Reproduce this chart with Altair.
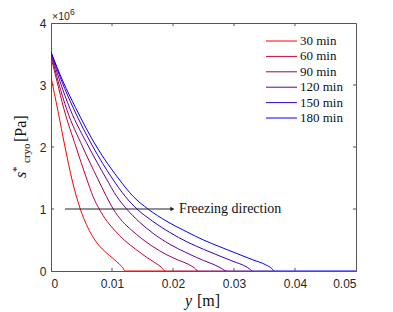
import altair as alt
import pandas as pd

# ---- data (s in units of 1e6 Pa, y in m) ----
series = ["30 min", "60 min", "90 min", "120 min", "150 min", "180 min"]
colors = ["#ff0000", "#cc0033", "#990066", "#660099", "#3300cc", "#0000ff"]

y30 = [0, 0.0011, 0.0023, 0.0035, 0.0048, 0.0058, 0.0068, 0.0078, 0.0090, 0.0102, 0.0112, 0.0118, 0.0121, 0.0187]
s30 = [3.13, 2.6, 2.0, 1.45, 1.0, 0.75, 0.56, 0.42, 0.3, 0.2, 0.11, 0.05, 0, 0]

y60 = [0, 0.001, 0.0021, 0.0041, 0.0058, 0.0069, 0.0079, 0.0092, 0.0104, 0.012, 0.0139, 0.0157, 0.0171, 0.0181, 0.0187, 0.0241]
s60 = [3.45, 3.05, 2.62, 2.0, 1.5, 1.2, 1.0, 0.8, 0.66, 0.5, 0.35, 0.22, 0.13, 0.06, 0, 0]

y90 = [0, 0.0012, 0.0026, 0.0052, 0.0076, 0.0091, 0.0102, 0.0117, 0.0132, 0.0149, 0.0166, 0.019, 0.021, 0.0225, 0.0235, 0.0241, 0.0288]
s90 = [3.5, 3.05, 2.6, 2.0, 1.5, 1.2, 1.0, 0.8, 0.66, 0.52, 0.4, 0.26, 0.17, 0.11, 0.05, 0, 0]

y120 = [0, 0.0015, 0.0031, 0.0062, 0.009, 0.0108, 0.0124, 0.0145, 0.0167, 0.0195, 0.0223, 0.025, 0.0268, 0.028, 0.0287, 0.033]
s120 = [3.52, 3.05, 2.62, 2.0, 1.5, 1.2, 1.0, 0.79, 0.61, 0.43, 0.29, 0.17, 0.1, 0.04, 0, 0]

y150 = [0, 0.0018, 0.0036, 0.0069, 0.0100, 0.0122, 0.0141, 0.0167, 0.0195, 0.0223, 0.025, 0.0277, 0.03, 0.0318, 0.0326, 0.033, 0.0366]
s150 = [3.53, 3.05, 2.64, 2.0, 1.5, 1.2, 1.0, 0.8, 0.62, 0.47, 0.35, 0.24, 0.15, 0.08, 0.03, 0, 0]

y180 = [0, 0.002, 0.004, 0.0075, 0.011, 0.0135, 0.0159, 0.019, 0.0223, 0.025, 0.0277, 0.0305, 0.0331, 0.0352, 0.0362, 0.0366, 0.05]
s180 = [3.53, 3.05, 2.64, 2.0, 1.5, 1.2, 1.0, 0.8, 0.63, 0.5, 0.39, 0.28, 0.18, 0.1, 0.04, 0, 0]

x_ticks = [0, 0.01, 0.02, 0.03, 0.04, 0.05]
y_ticks = [0, 1, 2, 3, 4]
inner_x_ticks = [0.01, 0.02, 0.03, 0.04]
inner_y_ticks = [1, 2, 3]

arrow_y = [0.0023, 0.0199]
arrow_s = 1.0
arrow_text = "Freezing direction"
arrow_text_y = 0.021

# ---- build table ----
rows = []
for name, ys, ss in zip(series, [y30, y60, y90, y120, y150, y180], [s30, s60, s90, s120, s150, s180]):
    for i, (a, b) in enumerate(zip(ys, ss)):
        rows.append({"series": name, "y": a, "s": b, "order": i})
df = pd.DataFrame(rows)

XS = alt.Scale(domain=[0, 0.05], nice=False)
YS = alt.Scale(domain=[0, 4], nice=False)
CS = alt.Scale(domain=series, range=colors)

serif = "Liberation Serif"
sans = "Liberation Sans"

lines = alt.Chart(df).mark_line(strokeWidth=1, interpolate="monotone", clip=True).encode(
    x=alt.X("y:Q", scale=XS, axis=alt.Axis(values=x_ticks, format=".2~f", title=None, labelPadding=7)),
    y=alt.Y("s:Q", scale=YS, axis=alt.Axis(values=y_ticks, format="d", title=None, labelPadding=5)),
    color=alt.Color("series:N", scale=CS, legend=None),
    order="order:Q",
)

tlen_x = 0.0005
tlen_y = 0.05
xt = pd.DataFrame({"v": inner_x_ticks})
yt = pd.DataFrame({"v": inner_y_ticks})
tick_col = "#555555"
xt_bottom = alt.Chart(xt).mark_rule(color=tick_col, strokeWidth=1).encode(
    x=alt.X("v:Q", scale=XS), y=alt.datum(0, scale=YS), y2=alt.datum(tlen_y))
xt_top = alt.Chart(xt).mark_rule(color=tick_col, strokeWidth=1).encode(
    x=alt.X("v:Q", scale=XS), y=alt.datum(4, scale=YS), y2=alt.datum(4 - tlen_y))
yt_left = alt.Chart(yt).mark_rule(color=tick_col, strokeWidth=1).encode(
    y=alt.Y("v:Q", scale=YS), x=alt.datum(0, scale=XS), x2=alt.datum(tlen_x))
yt_right = alt.Chart(yt).mark_rule(color=tick_col, strokeWidth=1).encode(
    y=alt.Y("v:Q", scale=YS), x=alt.datum(0.05, scale=XS), x2=alt.datum(0.05 - tlen_x))

adf = pd.DataFrame({"y0": [arrow_y[0]], "y1": [arrow_y[1]], "s": [arrow_s], "t": [arrow_text], "ty": [arrow_text_y]})
arrow = alt.Chart(adf).mark_rule(color="#222222", strokeWidth=1).encode(
    x=alt.X("y0:Q", scale=XS), x2="y1:Q", y=alt.Y("s:Q", scale=YS))
head = alt.Chart(adf).mark_point(shape="triangle-right", filled=True, size=22, color="#222222", opacity=1).encode(
    x=alt.X("y1:Q", scale=XS), y=alt.Y("s:Q", scale=YS))
atext = alt.Chart(adf).mark_text(font=serif, fontSize=14, align="left", baseline="middle", color="#111111").encode(
    x=alt.X("ty:Q", scale=XS), y=alt.Y("s:Q", scale=YS), text="t:N")

one = pd.DataFrame({"a": [0]})
def txt(text, x, y, **kw):
    return alt.Chart(one).mark_text(text=text, **kw).encode(x=alt.value(x), y=alt.value(y))

exp1 = txt("\u00d710", 1, -6, font=sans, fontSize=10.5, align="left", baseline="middle", color="#262626")
exp2 = txt("6", 19, -11, font=sans, fontSize=8.5, align="left", baseline="middle", color="#262626")

# y-axis title  s*_cryo [Pa]  (rotated)
yt1 = txt("s", -25, 155, font=serif, fontSize=16, fontStyle="italic", angle=270, align="left", baseline="alphabetic", color="#111111")
yt2 = txt("*", -31, 149, font=serif, fontSize=11, angle=270, align="left", baseline="alphabetic", color="#111111")
yt3 = txt("cryo", -21, 140, font=serif, fontSize=11, angle=270, align="left", baseline="alphabetic", color="#111111")
yt4 = txt("[Pa]", -25, 119, font=serif, fontSize=16, angle=270, align="left", baseline="alphabetic", color="#111111")

# x-axis title  y [m]
xt1 = txt("y", 134, 283, font=serif, fontSize=16, fontStyle="italic", align="left", baseline="alphabetic", color="#111111")
xt2 = txt("[m]", 146, 283, font=serif, fontSize=16, align="left", baseline="alphabetic", color="#111111")

data_layer = alt.layer(lines, xt_bottom, xt_top, yt_left, yt_right, arrow, head, atext,
                       exp1, exp2, yt1, yt2, yt3, yt4, xt1, xt2)

# legend (inside plot, top right)
ldf = pd.DataFrame({"series": series})
LY = alt.Scale(type="point", domain=series, range=[18, 95], padding=0)
leg_line = alt.Chart(ldf).mark_rule(strokeWidth=1).encode(
    x=alt.value(215), x2=alt.value(246),
    y=alt.Y("series:N", scale=LY, axis=None),
    color=alt.Color("series:N", scale=CS, legend=None))
leg_text = alt.Chart(ldf).mark_text(font=serif, fontSize=13, align="left", baseline="middle", color="#111111").encode(
    x=alt.value(249),
    y=alt.Y("series:N", scale=LY, axis=None),
    text="series:N")
legend_layer = alt.layer(leg_line, leg_text)

chart = alt.layer(data_layer, legend_layer).resolve_scale(y="independent").properties(
    width=305, height=248,
    autosize="none",
    padding={"left": 43, "top": 15, "right": 20, "bottom": 41},
).configure_view(stroke="#555555", strokeWidth=1).configure_axis(
    domainColor="#555555", labelColor="#262626", labelFont=sans, labelFontSize=12,
    ticks=False, tickSize=0, grid=False,
)

chart.save("out.html", embed_options={"renderer": "svg", "actions": False})
